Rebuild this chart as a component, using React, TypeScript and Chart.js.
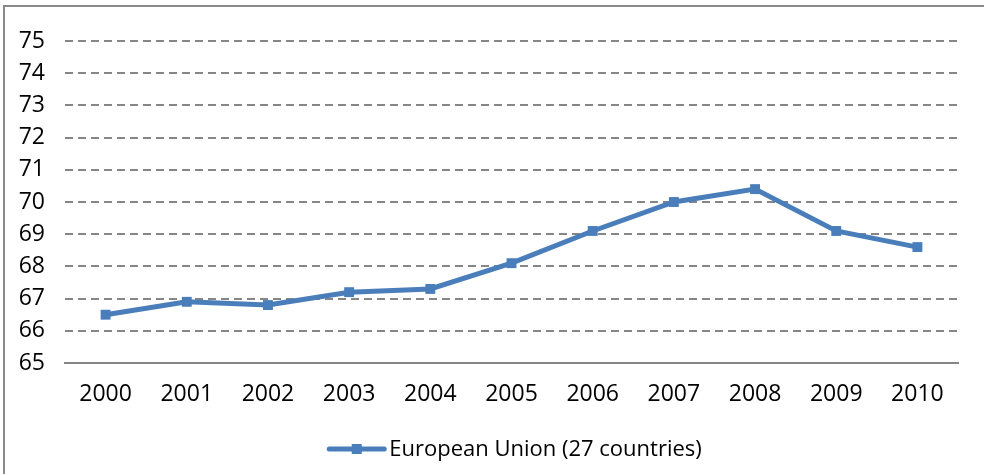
import React, { useEffect, useRef } from "react";
import { Chart, registerables } from "chart.js";

Chart.register(...registerables);

const years = ["2000", "2001", "2002", "2003", "2004", "2005", "2006", "2007", "2008", "2009", "2010"];
const euValues = [66.5, 66.9, 66.8, 67.2, 67.3, 68.1, 69.1, 70.0, 70.4, 69.1, 68.6];
const seriesLabel = "European Union (27 countries)";
const yMin = 65;
const yMax = 75;

const LINE_COLOR = "#4A7EBB";
const GRID_COLOR = "#868686";
const FONT = "'Open Sans', sans-serif";

const legendPlugin = {
  id: "customLegend",
  afterDraw(chart: any) {
    const ctx = chart.ctx;
    const area = chart.chartArea;
    ctx.save();
    ctx.font = `22px ${FONT}`;
    const tw = ctx.measureText(seriesLabel).width;
    const lineLen = 55;
    const gap = 5;
    const total = lineLen + gap + tw;
    const cx = (area.left + area.right) / 2 + 4;
    const x0 = cx - total / 2;
    const y = 449;
    ctx.strokeStyle = LINE_COLOR;
    ctx.lineWidth = 5;
    ctx.lineCap = "round";
    ctx.beginPath();
    ctx.moveTo(x0, y);
    ctx.lineTo(x0 + lineLen, y);
    ctx.stroke();
    ctx.fillStyle = LINE_COLOR;
    ctx.fillRect(x0 + lineLen / 2 - 5, y - 5, 10, 10);
    ctx.fillStyle = "#000";
    ctx.textBaseline = "middle";
    ctx.textAlign = "left";
    ctx.fillText(seriesLabel, x0 + lineLen + gap, y + 1);
    ctx.restore();
  },
};

export default function App() {
  const ref = useRef<HTMLCanvasElement>(null);
  useEffect(() => {
    if (!ref.current) return;
    const chart = new Chart(ref.current, {
      type: "line",
      data: {
        labels: years,
        datasets: [
          {
            label: seriesLabel,
            data: euValues,
            borderColor: LINE_COLOR,
            backgroundColor: LINE_COLOR,
            borderWidth: 5,
            pointStyle: "rect",
            pointRadius: 7,
            pointBorderWidth: 0,
            pointBackgroundColor: LINE_COLOR,
            tension: 0,
          },
        ],
      },
      options: {
        animation: false,
        responsive: false,
        maintainAspectRatio: false,
        layout: { padding: { top: 41, right: 26, left: 0, bottom: 0 } },
        plugins: { legend: { display: false }, tooltip: { enabled: false } },
        scales: {
          x: {
            offset: true,
            grid: { display: false, drawTicks: false },
            border: { display: true, color: GRID_COLOR, width: 2 },
            ticks: { color: "#000", font: { family: FONT, size: 23 }, padding: 18, maxRotation: 0 },
            afterFit: (s: any) => {
              s.height = 111;
            },
          },
          y: {
            min: yMin,
            max: yMax,
            ticks: { stepSize: 1, color: "#000", font: { family: FONT, size: 23 }, padding: 20 },
            grid: { color: GRID_COLOR, lineWidth: 2, drawTicks: false },
            border: { display: false, dash: [8, 5] },
            afterFit: (s: any) => {
              s.width = 65;
            },
          },
        },
      },
      plugins: [legendPlugin],
    });
    return () => chart.destroy();
  }, []);

  return (
    <div style={{ position: "fixed", left: 0, top: 0, width: 984, height: 474, overflow: "hidden", background: "#fff" }}>
      <div
        style={{
          position: "absolute",
          left: 3,
          top: 5,
          width: 1100,
          height: 600,
          borderTop: "2px solid #8a8a8a",
          borderLeft: "2px solid #8a8a8a",
          boxSizing: "border-box",
        }}
      />
      <canvas ref={ref} width={984} height={474} style={{ position: "absolute", left: 0, top: 0 }} />
    </div>
  );
}
